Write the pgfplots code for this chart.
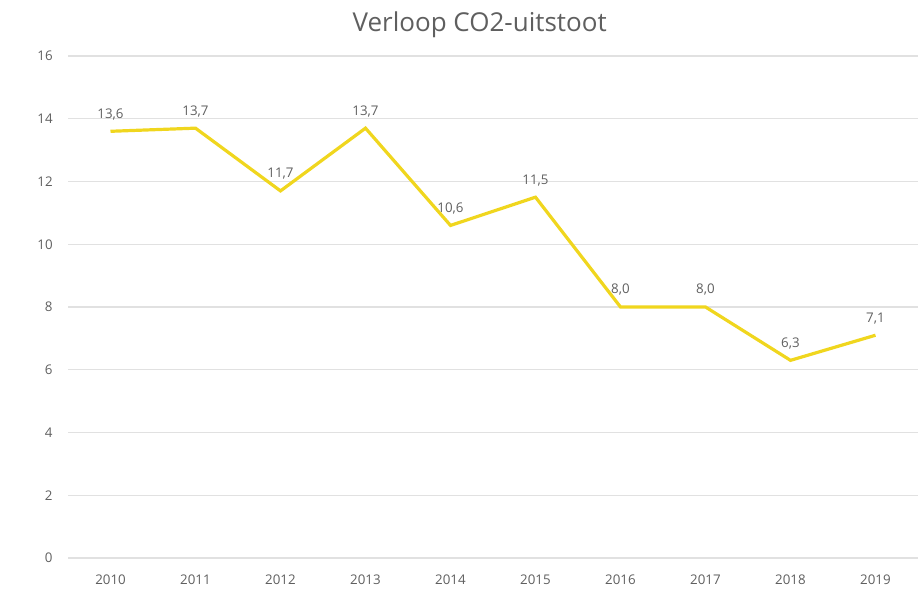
\documentclass[border=0pt]{standalone}
\usepackage{pgfplots}
\pgfplotsset{compat=1.18}
\usepackage{fontspec}
\setmainfont{Open Sans}
\definecolor{lineyellow}{RGB}{240,214,30}
\definecolor{txtgray}{RGB}{95,95,95}
\definecolor{gridgray}{RGB}{225,225,225}
\begin{document}
\begin{tikzpicture}
\begin{axis}[
  at={(0,0)}, anchor=south west,
  scale only axis,
  width=637.5pt, height=376.5pt,
  xmin=2009.5, xmax=2019.5,
  ymin=0, ymax=16,
  xtick={2010,...,2019},
  ytick={0,2,...,16},
  xticklabel style={/pgf/number format/set thousands separator={}, font=\fontsize{10}{12}\selectfont, text=txtgray},
  yticklabel style={font=\fontsize{10}{12}\selectfont, text=txtgray},
  /pgf/number format/assume math mode=true,
  axis line style={draw=none},
  major tick length=0pt,
  ymajorgrids,
  grid style={gridgray, line width=0.8pt},
  xtick pos=bottom, ytick pos=left,
  xticklabel shift=9pt,
  yticklabel shift=8pt,
  title={Verloop CO2-uitstoot},
  title style={font=\fontsize{19.5}{23}\selectfont, text=txtgray, at={(0.5,1)}, anchor=south, yshift=4pt, xshift=-10pt},
  nodes near coords,
  every node near coord/.append style={font=\fontsize{10}{12}\selectfont, text=txtgray, yshift=4pt,
    /pgf/number format/.cd, fixed, fixed zerofill, precision=1, use comma, assume math mode=true},
]
\addplot[color=lineyellow, line width=2.4pt, mark=none] coordinates {
  (2010,13.6) (2011,13.7) (2012,11.7) (2013,13.7) (2014,10.6)
  (2015,11.5) (2016,8.0) (2017,8.0) (2018,6.3) (2019,7.1)
};
\end{axis}
\pgfresetboundingbox
\path (-51pt,-26.25pt) rectangle (640.5pt,418.5pt);
\end{tikzpicture}
\end{document}
